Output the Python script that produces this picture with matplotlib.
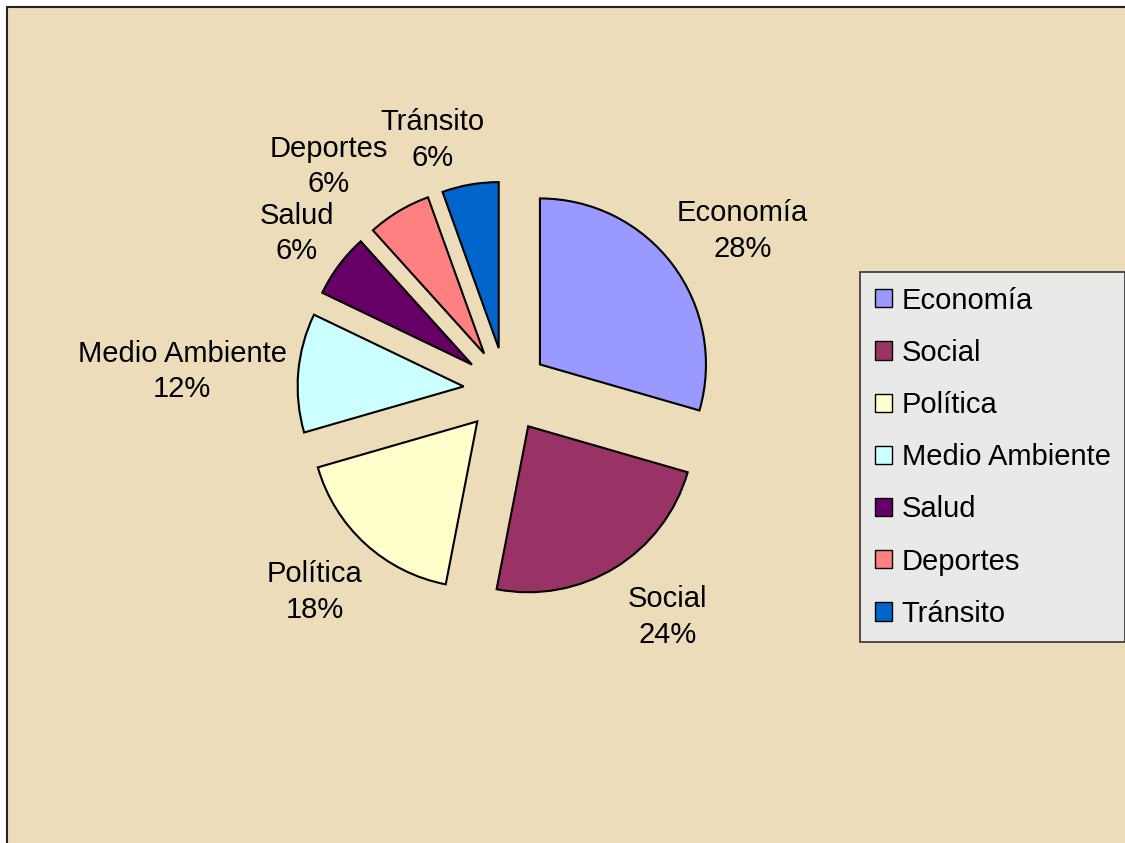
import numpy as np
import matplotlib
matplotlib.use("Agg")
import matplotlib.pyplot as plt
from matplotlib.patches import Rectangle

# data (slice sizes, labels as printed on the chart)
categories = ["Economía", "Social", "Política", "Medio Ambiente", "Salud", "Deportes", "Tránsito"]
values = [29.5, 23.6, 17.5, 11.6, 6.2, 6.2, 5.5]
pct_labels = ["28%", "24%", "18%", "12%", "6%", "6%", "6%"]
colors = ["#9999FF", "#993366", "#FFFFCC", "#CCFFFF", "#660066", "#FF8080", "#0066CC"]

# small layout nudges for the data labels (degrees around the pie, extra px outward)
label_rot = [-3, 4, -1, 1.5, 0, 7.5, 6.5]
label_push = [-4, 13, 5, 0, -5, 10, 3]

plt.rcParams["font.family"] = ["Liberation Sans", "DejaVu Sans"]

W, H = 1125, 843
fig = plt.figure(figsize=(W / 100, H / 100), dpi=100)
fig.patch.set_facecolor("white")

# chart area (parchment-like background with thin dark border)
bg = Rectangle((7 / W, -0.1), 1.2, 1 - 7 / H + 0.1, transform=fig.transFigure,
               facecolor="#EDDCB9", edgecolor="#222222", linewidth=1.5, zorder=-5)
fig.patches.append(bg)

ax = fig.add_axes([0, 0, 1, 1])
ax.patch.set_alpha(0)
ax.set_zorder(1)

explode = 0.256
wedges, _ = ax.pie(values, colors=colors, startangle=90, counterclock=False,
                   explode=[explode] * len(values), radius=1.0,
                   wedgeprops=dict(edgecolor="black", linewidth=1.5))

# pie centre at pixel (506, 390), radius 166 px
cx, cy, r = 506, 390, 166
ax.set_xlim(-cx / r, (W - cx) / r)
ax.set_ylim((cy - H) / r, cy / r)
ax.set_aspect("auto")
ax.axis("off")

# data labels: box pushed out along the mid angle so its near edge sits at a fixed radius
fig.canvas.draw()
renderer = fig.canvas.get_renderer()
gap = 1.31
for w, cat, pct, rot, push in zip(wedges, categories, pct_labels, label_rot, label_push):
    mid = np.deg2rad((w.theta1 + w.theta2) / 2)
    c, s = np.cos(mid), np.sin(mid)
    t = ax.text(0, 0, f"{cat}\n{pct}", ha="center", va="center", fontsize=21,
                multialignment="center", linespacing=1.35)
    bb = t.get_window_extent(renderer)
    half = (abs(c) * bb.width / 2 + abs(s) * bb.height / 2) / r
    d = gap + half + push / r
    a = mid + np.deg2rad(rot)
    t.set_position((d * np.cos(a), d * np.sin(a)))

leg = fig.legend(wedges, categories, loc="upper left",
                 bbox_to_anchor=(860 / W, 1 - 272 / H), fontsize=21,
                 frameon=True, fancybox=False, edgecolor="#333333",
                 facecolor="#E9E9E8", framealpha=1.0,
                 handlelength=0.58, handleheight=0.58, handletextpad=0.35,
                 labelspacing=0.83, borderpad=0.5, borderaxespad=0)
leg.set_zorder(5)
leg.get_frame().set_linewidth(1.2)
for h in leg.legend_handles:
    h.set_linewidth(1.0)

fig.savefig("out.png", dpi=100)
